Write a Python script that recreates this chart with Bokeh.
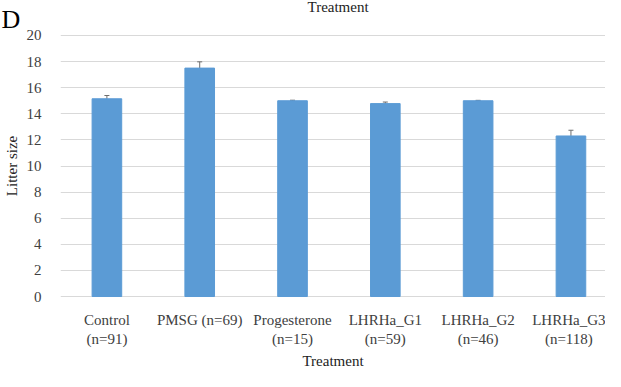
from bokeh.plotting import figure
from bokeh.models import Range1d, FixedTicker, Whisker, TeeHead, ColumnDataSource, Label, Title
from bokeh.embed import file_html
from bokeh.resources import INLINE

categories = ["Control\n(n=91)", "PMSG (n=69)", "Progesterone\n(n=15)",
              "LHRHa_G1\n(n=59)", "LHRHa_G2\n(n=46)", "LHRHa_G3\n(n=118)"]
litter_size = [15.15, 17.5, 15.0, 14.78, 15.0, 12.3]
std_err = [0.25, 0.48, 0.04, 0.12, 0.03, 0.44]
y_ticks = [0, 2, 4, 6, 8, 10, 12, 14, 16, 18, 20]
y_title = "Litter size"
x_title = "Treatment"
panel_label = "D"

FONT = "Liberation Serif"
px_per_unit = 269 / 20.0
frame_w = 552  # plot frame width in pixels (61 .. 613 on the page)

xs = list(range(len(categories)))
src = ColumnDataSource(dict(
    x=xs, top=litter_size,
    upper=[v + e for v, e in zip(litter_size, std_err)],
    lower=[v - e for v, e in zip(litter_size, std_err)],
))

p = figure(width=605, height=371, output_backend="svg", toolbar_location=None,
           x_range=Range1d(-0.5, -0.5 + frame_w / 94.0),
           y_range=Range1d(-1 / px_per_unit, 20 + 1 / px_per_unit),
           min_border_left=53, min_border_right=0, min_border_top=34, min_border_bottom=66)
p.outline_line_color = None

p.vbar(x="x", top="top", width=30 / 94.0, bottom=0, source=src,
       fill_color="#5b9bd5", line_color="#5b9bd5")
p.add_layout(Whisker(source=src, base="x", upper="upper", lower="lower",
                     line_color="#6e6e6e", line_width=1,
                     upper_head=TeeHead(size=5, line_color="#6e6e6e", line_width=1),
                     lower_head=TeeHead(size=5, line_color="#6e6e6e", line_width=1)))

p.xaxis.ticker = FixedTicker(ticks=xs)
p.xaxis.major_label_overrides = {i: c for i, c in enumerate(categories)}
p.xaxis.axis_line_color = None
p.xaxis.major_tick_line_color = None
p.xaxis.minor_tick_line_color = None
p.xaxis.major_label_text_font = FONT
p.xaxis.major_label_text_font_size = "15px"
p.xaxis.major_label_text_color = "#404040"
p.xaxis.major_label_standoff = 8
p.xaxis.axis_label = x_title
p.xaxis.axis_label_text_font = FONT
p.xaxis.axis_label_text_font_size = "15px"
p.xaxis.axis_label_text_font_style = "normal"
p.xaxis.axis_label_text_color = "#222222"
p.xaxis.axis_label_standoff = 3

p.yaxis.ticker = FixedTicker(ticks=y_ticks)
p.yaxis.axis_line_color = None
p.yaxis.major_tick_line_color = None
p.yaxis.minor_tick_line_color = None
p.yaxis.major_label_text_font = FONT
p.yaxis.major_label_text_font_size = "15px"
p.yaxis.major_label_text_color = "#404040"
p.yaxis.major_label_standoff = 13
p.yaxis.axis_label = y_title
p.yaxis.axis_label_text_font = FONT
p.yaxis.axis_label_text_font_size = "15px"
p.yaxis.axis_label_text_font_style = "normal"
p.yaxis.axis_label_text_color = "#222222"
p.yaxis.axis_label_standoff = 4

p.xgrid.grid_line_color = None
p.ygrid.ticker = FixedTicker(ticks=y_ticks)
p.ygrid.grid_line_color = "#d9d9d9"
p.ygrid.grid_line_width = 1

# panel letter, placed in canvas pixels inside the top border
p.add_layout(Label(x=1, y=19, x_units="canvas", y_units="canvas", text=panel_label,
                   text_font=FONT, text_font_size="26px", text_color="#000000",
                   text_baseline="alphabetic", text_align="left"), "above")
# caption of the panel above; negative standoff keeps it in the same top border
p.add_layout(Title(text=x_title, align="left", offset=247, standoff=-18,
                   vertical_align="bottom", text_font=FONT, text_font_size="15px",
                   text_font_style="normal", text_color="#222222"), "above")

open("out.html", "w").write(file_html(p, INLINE))
